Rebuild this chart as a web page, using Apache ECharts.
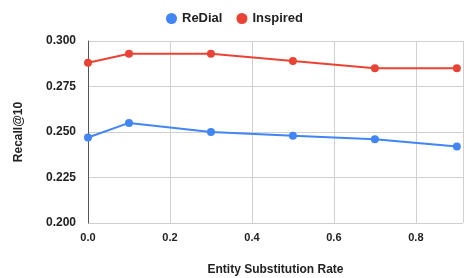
<!DOCTYPE html>
<html><head><meta charset="utf-8">
<script src="https://cdn.jsdelivr.net/npm/echarts@6/dist/echarts.min.js"></script>
<style>html,body{margin:0;padding:0;background:#fff}#c{width:469px;height:278px}</style>
</head><body><div id="c"></div>
<script>
var rates = [0.0, 0.1, 0.3, 0.5, 0.7, 0.9];
var redial = [0.247, 0.255, 0.250, 0.248, 0.246, 0.242];
var inspired = [0.288, 0.293, 0.293, 0.289, 0.285, 0.285];
var xTicks = [0.0, 0.2, 0.4, 0.6, 0.8];
var yTicks = [0.200, 0.225, 0.250, 0.275, 0.300];

var font = 'Liberation Sans, Arial, sans-serif';
var chart = echarts.init(document.getElementById('c'));
chart.setOption({
  animation: false,
  legend: {
    top: 7, left: 'center',
    icon: 'circle', itemWidth: 11, itemHeight: 11, itemGap: 14,
    textStyle: {fontFamily: font, fontWeight: 'bold', fontSize: 13, color: '#222'},
    data: ['ReDial', 'Inspired']
  },
  grid: {left: 88, right: 6, top: 41, bottom: 55, containLabel: false, outerBoundsMode: 'none'},
  xAxis: {
    type: 'value', min: 0, max: 0.915, interval: 0.2,
    name: 'Entity Substitution Rate', nameLocation: 'middle', nameGap: 41,
    nameTextStyle: {fontFamily: font, fontWeight: 'bold', fontSize: 12, color: '#222'},
    axisLine: {show: false}, axisTick: {show: false},
    splitLine: {show: true, lineStyle: {color: '#d0d0d0'}},
    axisLabel: {
      fontFamily: font, fontWeight: 'bold', fontSize: 11, color: '#222', margin: 9,
      showMaxLabel: false,
      formatter: function (v) {
        for (var i = 0; i < xTicks.length; i++) if (Math.abs(xTicks[i] - v) < 1e-6) return xTicks[i].toFixed(1);
        return '';
      }
    }
  },
  yAxis: {
    type: 'value', min: 0.2, max: 0.3, interval: 0.025,
    name: 'Recall@10', nameLocation: 'middle', nameGap: 63,
    nameTextStyle: {fontFamily: font, fontWeight: 'bold', fontSize: 12, color: '#222'},
    axisLine: {show: true, lineStyle: {color: '#555', width: 1}},
    axisTick: {show: false},
    splitLine: {show: true, lineStyle: {color: '#d0d0d0'}},
    axisLabel: {
      fontFamily: font, fontWeight: 'bold', fontSize: 12, color: '#222', margin: 12,
      formatter: function (v) {
        for (var i = 0; i < yTicks.length; i++) if (Math.abs(yTicks[i] - v) < 1e-6) return yTicks[i].toFixed(3);
        return '';
      }
    }
  },
  series: [
    {name: 'ReDial', type: 'line', data: rates.map(function (r, i) { return [r, redial[i]]; }),
     color: '#4285F4', symbol: 'circle', symbolSize: 8, lineStyle: {width: 2}},
    {name: 'Inspired', type: 'line', data: rates.map(function (r, i) { return [r, inspired[i]]; }),
     color: '#EA4335', symbol: 'circle', symbolSize: 8, lineStyle: {width: 2}}
  ]
});
</script></body></html>
